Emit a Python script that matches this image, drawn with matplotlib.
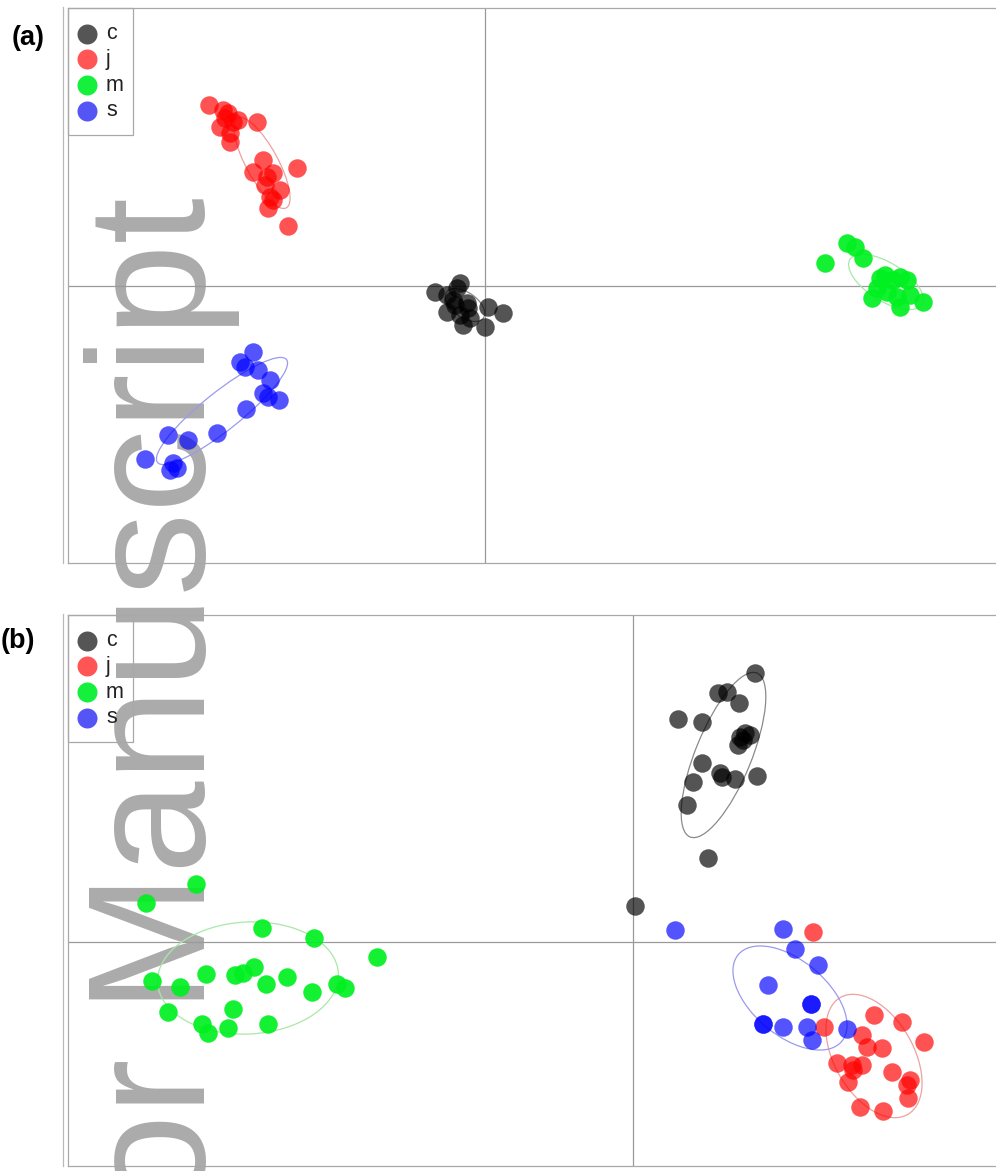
import matplotlib
matplotlib.use("Agg")
import matplotlib.pyplot as plt
from matplotlib.patches import Ellipse, Rectangle
from matplotlib.lines import Line2D

plt.rcParams['font.family'] = ['Liberation Sans', 'DejaVu Sans']

# ---------------------------------------------------------------- data
groups = ["c", "j", "m", "s"]

# panel (a): scores on the first two axes
a_c_x = [-0.50, -0.25, -0.28, -0.38, -0.32, -0.18, -0.38, -0.25, -0.17, -0.22, 0.03, 0.18, 0.00, -0.15, -0.30]
a_c_y = [-0.06, 0.03, -0.02, -0.09, -0.14, -0.17, -0.26, -0.29, -0.22, -0.39, -0.21, -0.27, -0.41, -0.32, -0.19]
a_j_x = [-2.76, -2.62, -2.57, -2.65, -2.52, -2.47, -2.55, -2.55, -2.28, -2.22, -2.32, -2.18, -2.12, -2.05, -2.15, -2.12, -2.17, -1.88, -1.97, -2.20, -2.60]
a_j_y = [1.81, 1.76, 1.73, 1.59, 1.64, 1.66, 1.53, 1.44, 1.64, 1.26, 1.14, 1.09, 1.13, 0.96, 0.89, 0.86, 0.78, 1.18, 0.60, 1.01, 1.68]
a_m_x = [3.40, 3.62, 3.70, 3.78, 3.87, 3.95, 4.08, 4.15, 4.22, 4.02, 4.15, 4.25, 4.38, 4.12, 3.92, 4.00]
a_m_y = [0.23, 0.43, 0.39, 0.28, -0.12, 0.08, 0.06, 0.09, 0.06, -0.06, -0.21, -0.09, -0.16, -0.11, -0.02, 0.11]
a_s_x = [-2.32, -2.45, -2.40, -2.27, -2.15, -2.22, -2.17, -2.06, -2.39, -2.68, -2.97, -3.17, -3.40, -3.12, -3.08, -3.15]
a_s_y = [-0.66, -0.76, -0.81, -0.84, -0.94, -1.07, -1.11, -1.14, -1.23, -1.47, -1.54, -1.49, -1.73, -1.77, -1.82, -1.84]

# panel (b)
b_c_x = [1.22, 0.85, 0.94, 1.06, 0.45, 0.69, 1.07, 1.17, 1.10, 1.05, 0.69, 0.87, 0.89, 1.02, 1.24, 0.60, 0.54, 0.75, 0.02, 1.12]
b_c_y = [2.69, 2.49, 2.50, 2.39, 2.23, 2.20, 2.05, 2.07, 2.02, 1.97, 1.79, 1.69, 1.65, 1.63, 1.66, 1.60, 1.37, 0.84, 0.36, 2.09]
b_j_x = [1.80, 2.41, 2.69, 2.91, 1.91, 2.29, 2.34, 2.49, 2.04, 2.19, 2.29, 2.20, 2.15, 2.59, 2.77, 2.74, 2.75, 2.27, 2.50]
b_j_y = [0.10, -0.73, -0.80, -1.00, -0.85, -0.93, -1.05, -1.06, -1.21, -1.23, -1.23, -1.28, -1.40, -1.30, -1.38, -1.43, -1.56, -1.65, -1.69]
b_m_x = [-4.37, -4.87, -3.71, -3.19, -2.56, -4.81, -4.53, -4.27, -3.98, -3.90, -3.79, -3.67, -3.46, -3.21, -2.96, -2.88, -4.65, -4.00, -4.31, -4.25, -4.05, -3.65]
b_m_y = [0.58, 0.39, 0.14, 0.04, -0.15, -0.39, -0.45, -0.32, -0.33, -0.31, -0.25, -0.42, -0.35, -0.50, -0.42, -0.46, -0.70, -0.67, -0.82, -0.91, -0.86, -0.82]
b_s_x = [0.42, 1.50, 1.62, 1.85, 1.35, 1.78, 1.78, 1.30, 1.30, 1.50, 1.74, 1.79, 2.14]
b_s_y = [0.12, 0.13, -0.07, -0.23, -0.43, -0.62, -0.62, -0.82, -0.82, -0.85, -0.85, -0.98, -0.87]

# group ellipses: centre x, centre y, major, minor, angle (deg)
a_ell_cx = [-0.20, -2.23, 4.01, -2.63]
a_ell_cy = [-0.19, 1.23, 0.04, -1.25]
a_ell_w = [0.45, 1.02, 0.85, 1.65]
a_ell_h = [0.25, 0.32, 0.38, 0.38]
a_ell_ang = [-35, -61.5, -32, 38.6]

b_ell_cx = [0.905, 2.41, -3.85, 1.57]
b_ell_cy = [1.87, -1.14, -0.36, -0.56]
b_ell_w = [1.77, 1.35, 1.81, 1.35]
b_ell_h = [0.56, 0.79, 1.12, 0.75]
b_ell_ang = [67.8, -60, 3, -40]

# ---------------------------------------------------------------- style
pt_colors = {"c": "#000000", "j": "#ff0000", "m": "#00f020", "s": "#0000ff"}
pt_alpha = {"c": 0.67, "j": 0.68, "m": 0.92, "s": 0.67}
ell_colors = {"c": "#8a8a8a", "j": "#f0a0a0", "m": "#a8e8a8", "s": "#9a9aee"}
key_colors = {"c": "#555555", "j": "#ff5555", "m": "#14f03c", "s": "#5555f5"}

W, H = 996, 1171
fig = plt.figure(figsize=(W / 100, H / 100), dpi=100)


def fx(px):
    return px / W


def fy(py):
    return 1 - py / H


def panel(top, bottom, origin_x, origin_y, label, label_xy, pts, ell):
    ax = fig.add_axes([fx(68), fy(bottom), fx(996) - fx(68), fy(top) - fy(bottom)])
    ax.set_facecolor("none")
    ax.set_xlim((68 - origin_x) / 100, (996 - origin_x) / 100)
    ax.set_ylim((origin_y - bottom) / 100, (origin_y - top) / 100)
    ax.set_xticks([])
    ax.set_yticks([])
    for side in ("left", "top", "bottom"):
        ax.spines[side].set_color("#a8a8a8")
        ax.spines[side].set_linewidth(0.9)
    ax.spines["right"].set_visible(False)
    ax.axhline(0, color="#9a9a9a", lw=0.9, zorder=1)
    ax.axvline(0, color="#9a9a9a", lw=0.9, zorder=1)

    cx, cy, ew, eh, ea = ell
    for i, g in enumerate(groups):
        ax.add_patch(Ellipse((cx[i], cy[i]), ew[i], eh[i], angle=ea[i],
                             fill=False, ec=ell_colors[g], lw=0.9, zorder=2))
    for g in groups:
        xs, ys = pts[g]
        ax.scatter(xs, ys, s=177, color=pt_colors[g], alpha=pt_alpha[g],
                   linewidths=0, zorder=3)

    # outer frame line on the left
    fig.add_artist(Line2D([fx(63), fx(63)], [fy(top - 1), fy(bottom)],
                          color="#b8b8b8", lw=0.9))

    # legend box
    fig.add_artist(Rectangle((fx(68), fy(top + 127)), fx(133) - fx(68), fy(top) - fy(top + 127),
                             fill=False, ec="#a8a8a8", lw=0.9, transform=fig.transFigure))
    for i, g in enumerate(groups):
        yy = top + 25.5 + 25.8 * i
        fig.add_artist(Line2D([fx(87)], [fy(yy)], marker="o", ms=14.4, mew=0,
                              mfc=key_colors[g], ls="none"))
        fig.text(fx(106), fy(yy), g, fontsize=15.5, color="#222222",
                 ha="left", va="center")

    fig.text(fx(label_xy[0]), fy(label_xy[1]), label, fontsize=19.5,
             fontweight="bold", ha="center", va="center")
    return ax


panel(8, 563, 485, 286, "(a)", (28, 38),
      {"c": (a_c_x, a_c_y), "j": (a_j_x, a_j_y), "m": (a_m_x, a_m_y), "s": (a_s_x, a_s_y)},
      (a_ell_cx, a_ell_cy, a_ell_w, a_ell_h, a_ell_ang))
panel(615, 1166, 633, 942, "(b)", (18, 641),
      {"c": (b_c_x, b_c_y), "j": (b_j_x, b_j_y), "m": (b_m_x, b_m_y), "s": (b_s_x, b_s_y)},
      (b_ell_cx, b_ell_cy, b_ell_w, b_ell_h, b_ell_ang))

# vertical watermark behind the panels
fig.text(fx(205), fy(197), "Author Manuscript", rotation=90, rotation_mode="anchor",
         ha="right", va="baseline", fontsize=120, color="#ababab", zorder=-5)

fig.savefig("out.png", dpi=100, facecolor="white")
